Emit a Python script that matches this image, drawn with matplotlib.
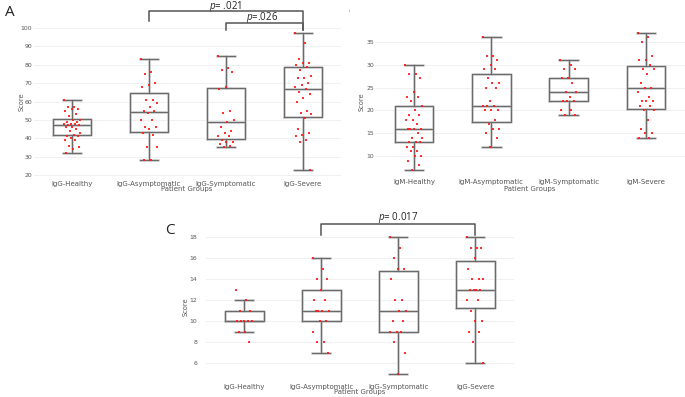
import numpy as np
import matplotlib
matplotlib.use("Agg")
import matplotlib.pyplot as plt

plt.rcParams['font.family'] = ['DejaVu Sans']
plt.rcParams['mathtext.fontset'] = 'custom'
plt.rcParams['mathtext.it'] = 'Open Sans:italic'
plt.rcParams['mathtext.rm'] = 'Open Sans'

# ---------------- data ----------------
igg_groups = ["IgG-Healthy", "IgG-Asymptomatic", "IgG-Symptomatic", "IgG-Severe"]
igm_groups = ["IgM-Healthy", "IgM-Asymptomatic", "IgM-Symptomatic", "IgM-Severe"]

# Panel A (IgG) box stats: whislo, q1, med, q3, whishi
a_whislo = [32, 28, 35, 23]
a_q1 = [42, 43.5, 39.5, 51.5]
a_med = [47, 54.5, 49, 67]
a_q3 = [50.5, 64.5, 67.5, 78.5]
a_whishi = [61, 83, 85, 97]
a_healthy = [61, 57, 57, 56, 56, 55, 53, 52, 50, 50, 49, 49, 48, 48, 48, 47, 47, 46, 46,
             45, 44, 43, 42, 41, 41, 40, 39, 39, 36, 35, 34, 32]
a_asym = [83, 76, 75, 70, 69, 68, 61, 61, 59, 57, 55, 55, 54, 50, 50, 46, 46, 45, 43, 42,
          35, 35, 28, 28]
a_sym = [85, 78, 77, 76, 68, 67, 55, 54, 50, 49, 46, 44, 43, 41, 41, 39, 38, 38, 37, 36, 35]
a_sev = [97, 92, 83, 81, 81, 80, 79, 77, 74, 73, 73, 70, 69, 68, 67, 65, 64, 62, 60, 55,
         54, 53, 51, 45, 43, 42, 41, 39, 38, 23]
a_yticks = [20, 30, 40, 50, 60, 70, 80, 90, 100]

# Panel B (IgM)
b_whislo = [7, 12, 19, 14]
b_q1 = [13, 17.5, 22, 20.2]
b_med = [16, 21, 24, 25]
b_q3 = [21, 28, 27, 29.8]
b_whishi = [30, 36, 31, 37]
b_healthy = [30, 28, 28, 27, 24, 23, 23, 22, 21, 20, 19, 19, 18, 18, 17, 16, 16, 16, 16,
             15, 14, 14, 13, 13, 13, 12, 12, 11, 11, 10, 10, 9, 8, 7]
b_asym = [36, 32, 32, 31, 30, 29, 29, 27, 26, 26, 25, 25, 22, 21, 21, 21, 20, 20, 20, 18,
          17, 16, 16, 15, 14, 12]
b_sym = [31, 30, 29, 29, 27, 27, 26, 24, 24, 23, 22, 22, 22, 20, 20, 19, 19]
b_sev = [37, 36, 35, 32, 31, 31, 30, 29, 29, 28, 26, 25, 25, 24, 23, 22, 22, 22, 21, 21,
         20, 20, 18, 16, 15, 15, 14, 14]
b_yticks = [10, 15, 20, 25, 30, 35]

# Panel C (IgG)
c_whislo = [9, 7, 5, 6]
c_q1 = [10, 10, 9, 11.25]
c_med = [10, 11, 11, 13]
c_q3 = [11, 13, 14.75, 15.75]
c_whishi = [12, 16, 18, 18]
c_healthy = [13, 12, 11, 11, 10, 10, 10, 10, 10, 9, 9, 8]
c_asym = [16, 15, 14, 14, 13, 12, 12, 11, 11, 11, 11, 10, 10, 9, 8, 8, 7]
c_sym = [18, 17, 16, 15, 15, 14, 12, 12, 11, 11, 10, 10, 9, 9, 9, 8, 7, 5]
c_sev = [18, 17, 17, 17, 16, 15, 14, 14, 14, 13, 13, 13, 13, 12, 12, 11, 10, 10, 9, 9, 8, 6]
c_yticks = [6, 8, 10, 12, 14, 16, 18]

# ---------------- figure ----------------
W, H = 685, 397
fig = plt.figure(figsize=(W / 100, H / 100), dpi=100)
fig.patch.set_facecolor("white")


def add_ax(x0, x1, ytop, ybot):
    return fig.add_axes([x0 / W, 1 - ybot / H, (x1 - x0) / W, (ybot - ytop) / H])


def ftext(x, y, s, **kw):
    fig.text(x / W, 1 - y / H, s, **kw)


BOXC = "#6a6a6a"
SHADE = "#dcdcdc"


def draw_panel(ax, labels, whislo, q1, med, q3, whishi, pts, yticks, ylim, tickpad, xpad):
    stats = []
    for i in range(len(labels)):
        stats.append(dict(whislo=whislo[i], q1=q1[i], med=med[i], q3=q3[i],
                          whishi=whishi[i], label=labels[i]))
    pos = np.arange(len(labels))
    # light underlay
    ax.bxp(stats, positions=pos, widths=0.5, capwidths=0.24, showfliers=False,
           boxprops=dict(color=SHADE, lw=2.0), whiskerprops=dict(color=SHADE, lw=2.0),
           capprops=dict(color=SHADE, lw=2.0), medianprops=dict(color=SHADE, lw=2.0),
           manage_ticks=False, zorder=2)
    ax.bxp(stats, positions=pos, widths=0.5, capwidths=0.24, showfliers=False,
           boxprops=dict(color=BOXC, lw=0.9), whiskerprops=dict(color=BOXC, lw=0.9),
           capprops=dict(color=BOXC, lw=0.9), medianprops=dict(color=BOXC, lw=0.9),
           manage_ticks=False, zorder=3)
    for i, vals in enumerate(pts):
        n = len(vals)
        off = ((np.arange(n) * 0.618034) % 1 - 0.5) * 0.22
        ax.plot(pos[i] + off, vals, linestyle="none", marker="s", markersize=1.7,
                color="#ff1a1a", alpha=0.9, markeredgewidth=0, zorder=4)
    ax.set_xlim(-0.5, len(labels) - 0.5)
    ax.set_ylim(*ylim)
    ax.set_yticks(yticks)
    ax.set_yticklabels([str(t) for t in yticks])
    ax.set_xticks(pos)
    ax.set_xticklabels(labels)
    for s in ax.spines.values():
        s.set_visible(False)
    ax.tick_params(axis="both", length=0, labelsize=4.4, colors="#555555")
    ax.tick_params(axis="y", pad=tickpad)
    ax.tick_params(axis="x", pad=xpad, labelsize=5.0)
    ax.grid(axis="y", color="#eeeeee", lw=0.6, zorder=0)
    ax.set_axisbelow(True)
    ax.set_facecolor("none")


# Panel A
axA = add_ax(33.5, 341.5, 24.3, 178.7)
draw_panel(axA, igg_groups, a_whislo, a_q1, a_med, a_q3, a_whishi,
           [a_healthy, a_asym, a_sym, a_sev], a_yticks, (18, 102), 1, 1.5)
# Panel B
axB = add_ax(375.3, 684.7, 28.3, 176.5)
draw_panel(axB, igm_groups, b_whislo, b_q1, b_med, b_q3, b_whishi,
           [b_healthy, b_asym, b_sym, b_sev], b_yticks, (5.5, 38), 1, 1.5)
# Panel C
axC = add_ax(205.75, 513.75, 226.5, 378.75)
draw_panel(axC, igg_groups, c_whislo, c_q1, c_med, c_q3, c_whishi,
           [c_healthy, c_asym, c_sym, c_sev], c_yticks, (4.5, 19), 6, 4)

# Brackets
BRC = "#555555"


def bracket(ax, x0, x1, ytop, yend0, yend1, text, tx, ty):
    ax.plot([x0, x0, x1, x1], [yend0, ytop, ytop, yend1], color=BRC, lw=1.1,
            clip_on=False, zorder=5)
    ax.text(tx, ty, text, ha="center", va="center", fontsize=7.0, color="#222222",
            family="Open Sans", clip_on=False)


bracket(axA, 1, 3, 109.3, 103.8, 98.9, r"$\it{p}$= .021", 2, 111.6)
bracket(axA, 2, 3, 102.8, 98.9, 98.9, r"$\it{p}$=.026", 2.47, 105.6)
bracket(axC, 1, 3, 19.25, 18.2, 18.2, r"$\it{p}$= 0.017", 2, 19.9)

# axis titles
for x, y in [(22, 102), (362, 102), (186, 307)]:
    ftext(x, y, "Score", rotation=90, ha="center", va="center", fontsize=4.8, color="#555555")
for x, y in [(187, 189), (530, 189), (360, 392)]:
    ftext(x, y, "Patient Groups", ha="center", va="center", fontsize=5.0, color="#555555")

# panel letters
ftext(10, 12, "A", ha="center", va="center", fontsize=11, color="#222222", family="Open Sans")
ftext(170, 230, "C", ha="center", va="center", fontsize=11, color="#222222", family="Open Sans")
ftext(349, 11, "i", ha="center", va="center", fontsize=3, color="#777777")

fig.savefig("out.png", dpi=100, facecolor="white")
